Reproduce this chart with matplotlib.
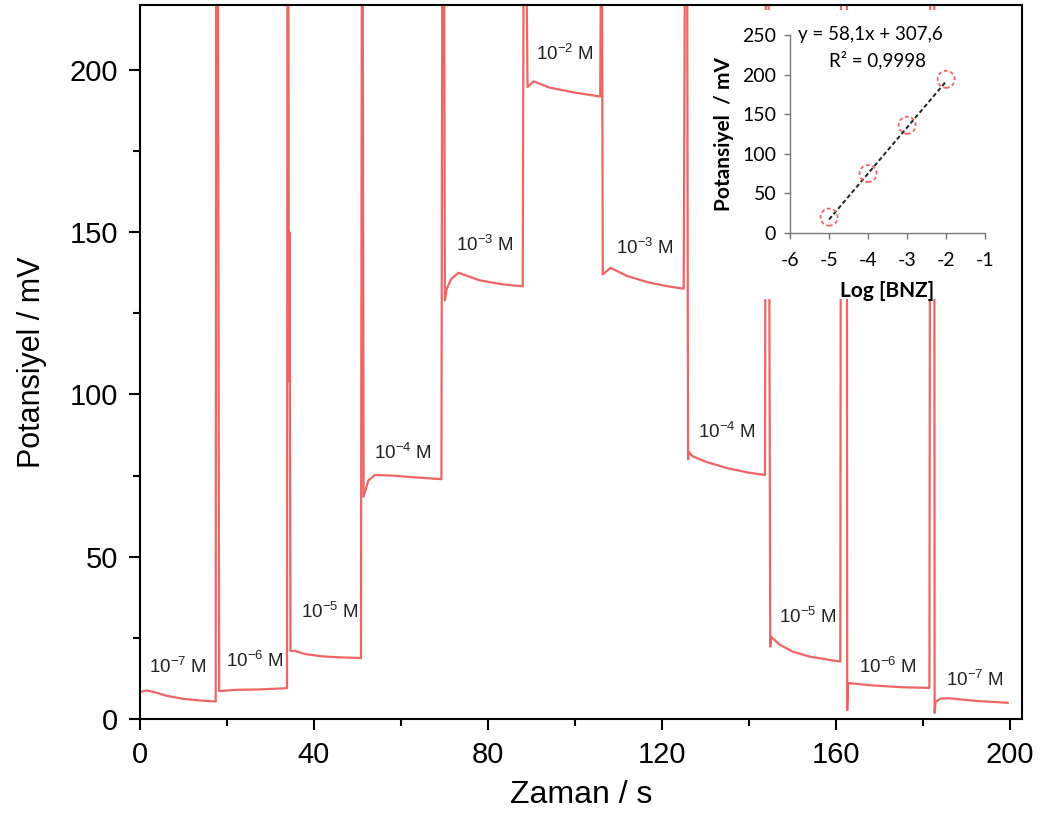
import matplotlib
matplotlib.use("Agg")
import matplotlib.pyplot as plt
from matplotlib.patches import Rectangle
from matplotlib.ticker import MultipleLocator
import numpy as np

# Zaman (s) ve potansiyel (mV) - grafikten okunan noktalar
t_s = [0.0, 1.5, 3.0, 6.0, 10.0, 14.0, 17.4,
       17.5, 17.9,
       18.2, 22.0, 27.0, 33.8,
       33.9, 34.1, 34.2, 34.3, 34.35, 34.45, 34.6,
       35.5, 38.0, 42.0, 46.0, 50.8,
       51.0, 51.2,
       51.4, 52.5, 54.0, 58.0, 64.0, 69.3,
       69.5, 69.9,
       70.1, 70.5, 71.5, 73.2, 78.0, 83.0, 88.0,
       88.2, 88.8,
       89.1, 90.5, 94.0, 100.0, 105.8,
       106.0, 106.2,
       106.4, 108.2, 112.0, 117.0, 121.0, 125.0,
       125.3, 125.8,
       126.0, 126.2, 127.0, 130.0, 135.0, 140.0, 143.7,
       143.9, 144.5,
       144.9, 145.1, 147.0, 150.0, 154.0, 161.0,
       161.2, 162.5,
       162.6, 162.8, 168.0, 175.0, 181.5,
       181.7, 182.6,
       182.7, 182.9, 184.0, 186.0, 192.0, 199.5]
E_mV = [8.3, 8.8, 8.4, 7.2, 6.2, 5.7, 5.4,
        240, 240,
        8.6, 9.0, 9.1, 9.5,
        240, 240, 150, 104, 150, 104, 21,
        21.0, 20.0, 19.3, 19.0, 18.8,
        240, 240,
        68.5, 73.5, 75.2, 75.0, 74.4, 73.9,
        240, 240,
        129, 132.5, 135.5, 137.5, 135.2, 134.0, 133.3,
        240, 240,
        194.7, 196.5, 194.6, 193.0, 191.8,
        240, 240,
        137, 139, 136.5, 134.5, 133.4, 132.6,
        240, 240,
        80, 82.3, 81, 79.3, 77.3, 75.9, 75.2,
        240, 240,
        22.3, 25.3, 23.0, 20.8, 19.2, 17.7,
        240, 240,
        2.8, 11.1, 10.4, 9.8, 9.6,
        240, 240,
        1.9, 5.2, 6.3, 6.4, 5.6, 5.0]

# Derişim etiketleri ve konumları
conc_labels = ["10$^{-7}$ M", "10$^{-6}$ M", "10$^{-5}$ M", "10$^{-4}$ M",
               "10$^{-3}$ M", "10$^{-2}$ M", "10$^{-3}$ M", "10$^{-4}$ M",
               "10$^{-5}$ M", "10$^{-6}$ M", "10$^{-7}$ M"]
label_t = [8.7, 26.5, 43.7, 60.5, 79.4, 97.6, 116.0, 135.0, 153.5, 172.0, 192.0]
label_E = [16, 18, 33, 82, 146, 205, 145, 88.5, 31.5, 16, 12]

# Kalibrasyon (iç grafik)
log_c = [-5, -4, -3, -2]
E_cal = [20, 75, 136, 194]
slope, intercept = 58.1, 307.6

plt.rcParams["font.family"] = ["Liberation Sans", "DejaVu Sans"]
plt.rcParams["mathtext.fontset"] = "custom"
plt.rcParams["mathtext.rm"] = "Liberation Sans"
plt.rcParams["mathtext.it"] = "Liberation Sans:italic"
plt.rcParams["axes.unicode_minus"] = False

red = "#f06464"
cal_font = ["Lato", "DejaVu Sans"]

fig = plt.figure(figsize=(10.41, 8.21), dpi=100)
ax = fig.add_axes([0.1345, 0.1242, 0.8473, 0.8697])
ax.plot(t_s, E_mV, color=red, lw=1.6, zorder=2)
ax.set_xlim(0, 202.8)
ax.set_ylim(0, 220)
ax.xaxis.set_major_locator(MultipleLocator(40))
ax.xaxis.set_minor_locator(MultipleLocator(20))
ax.yaxis.set_major_locator(MultipleLocator(50))
ax.yaxis.set_minor_locator(MultipleLocator(25))
ax.tick_params(which="major", direction="out", length=8, width=1.5, labelsize=21)
ax.tick_params(which="minor", direction="out", length=5, width=1.5)
ax.tick_params(axis="x", which="major", pad=8)
ax.tick_params(axis="y", which="major", pad=8)
for sp in ax.spines.values():
    sp.set_linewidth(1.5)
ax.set_xlabel("Zaman / s", fontsize=23, labelpad=8)
ax.set_ylabel("Potansiyel / mV", fontsize=22, labelpad=16)

for lab, x, y in zip(conc_labels, label_t, label_E):
    ax.text(x, y, lab, fontsize=13.5, ha="center", va="center", color="#222222")

# iç grafiğin beyaz arka planı
ax.add_patch(Rectangle((0.641, 0.588), 0.36, 0.405, transform=ax.transAxes,
                       facecolor="white", edgecolor="none", zorder=2.2))

# İç grafik
ins = fig.add_axes([0.759, 0.7162, 0.1873, 0.2412])
ins.patch.set_alpha(0)
xx = np.array([log_c[0], log_c[-1]])
ins.plot(xx, slope * xx + intercept, color="#222222", lw=1.4, ls=(0, (2.2, 1.4)))
ins.scatter(log_c, E_cal, s=150, facecolors="none", edgecolors=red,
            linewidths=1.3, linestyles=(0, (2, 1.5)), zorder=3)
ins.set_xlim(-6, -1)
ins.set_ylim(0, 250)
ins.set_xticks([-6, -5, -4, -3, -2, -1])
ins.set_yticks([0, 50, 100, 150, 200, 250])
ins.spines["top"].set_visible(False)
ins.spines["right"].set_visible(False)
for sp in ins.spines.values():
    sp.set_color("#777777")
    sp.set_linewidth(1.0)
ins.tick_params(direction="out", length=4, width=1.0, color="#777777",
                labelsize=14)
ins.tick_params(axis="x", pad=10)
ins.tick_params(axis="y", pad=6)
for lab in ins.get_xticklabels() + ins.get_yticklabels():
    lab.set_family(cal_font)
ins.set_xlabel("Log [BNZ]", fontsize=15, fontweight="bold",
               family=cal_font, labelpad=8)
ins.set_ylabel("Potansiyel  / mV", fontsize=15, fontweight="bold",
               family=cal_font, labelpad=6)
ins.text(-3.93, 250, "y = 58,1x + 307,6", fontsize=13.5, ha="center", va="center",
         family=cal_font)
ins.text(-3.75, 218, "R\u00b2 = 0,9998", fontsize=13.5, ha="center", va="center",
         family=cal_font)

fig.savefig("out.png", dpi=100)
